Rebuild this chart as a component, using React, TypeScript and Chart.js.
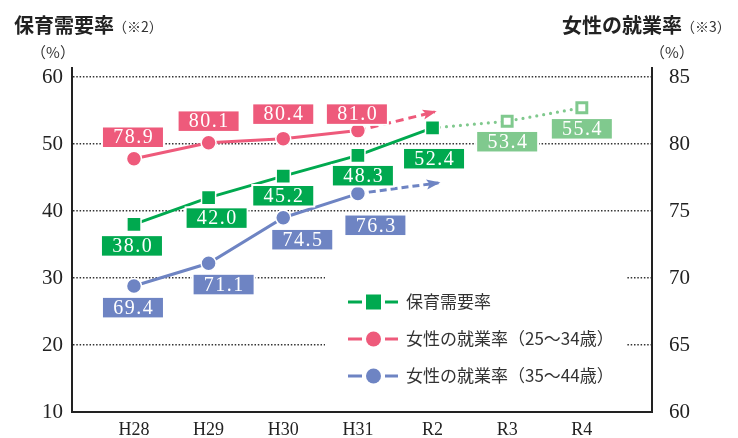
import React, { useEffect, useRef } from 'react';
import { Chart, registerables } from 'chart.js';

Chart.register(...registerables);

// ---- data ----
const categories = ['H28', 'H29', 'H30', 'H31', 'R2', 'R3', 'R4'];
const demandActual = [38.0, 42.0, 45.2, 48.3, 52.4]; // H28..R2
const demandForecast = [52.4, 53.4, 55.4]; // R2..R4
const emp2534 = [78.9, 80.1, 80.4, 81.0]; // H28..H31
const emp3544 = [69.4, 71.1, 74.5, 76.3]; // H28..H31
const emp2534TrendEnd = 82.4; // dashed arrow end (around R2)
const emp3544TrendEnd = 77.1;
const leftTicks = [10, 20, 30, 40, 50, 60];
const rightTicks = [60, 65, 70, 75, 80, 85];

const leftTitle = '保育需要率';
const leftNote = '（※2）';
const rightTitle = '女性の就業率';
const rightNote = '（※3）';
const unitLabel = '（%）';
const legendLabels = ['保育需要率', '女性の就業率（25～34歳）', '女性の就業率（35～44歳）'];

// ---- styles ----
const GREEN = '#00a94f';
const LIGHT_GREEN = '#80c98e';
const PINK = '#ee5a7b';
const BLUE = '#6e84c3';
const SERIF = '"Liberation Serif", "Times New Roman", serif';
const SANS = '"Noto Sans CJK JP", "Noto Sans", sans-serif';

// label box offsets from point (dx, dy)
const greenOffsets = [[-2, 21.5], [8, 20.5], [0, 19.6], [5, 20.3], [1.5, 30.8]];
const greenForecastOffsets = [null, [0, 20.5], [0, 21]];
const pinkOffsets = [[-1, -21.5], [0, -21.5], [0, -24.5], [-1, -16.5]];
const blueOffsets = [[-1, 21.6], [15, 21.3], [19, 22], [17.5, 31.7]];

const pts = (arr: number[], start = 0) => arr.map((v, i) => ({ x: start + i, y: v }));

function drawBox(ctx: CanvasRenderingContext2D, cx: number, cy: number, text: string, color: string) {
  const w = 60, h = 19.5;
  ctx.save();
  ctx.fillStyle = '#fff';
  ctx.fillRect(cx - w / 2 - 2, cy - h / 2 - 2, w + 4, h + 4);
  ctx.fillStyle = color;
  ctx.fillRect(cx - w / 2, cy - h / 2, w, h);
  ctx.fillStyle = '#fff';
  ctx.font = `20px ${SERIF}`;
  (ctx as any).letterSpacing = '1.5px';
  ctx.textAlign = 'center';
  ctx.textBaseline = 'middle';
  ctx.fillText(text, cx + 0.75, cy + 1);
  ctx.restore();
}

function drawArrowHead(ctx: CanvasRenderingContext2D, x0: number, y0: number, x1: number, y1: number, color: string) {
  const ang = Math.atan2(y1 - y0, x1 - x0);
  const len = 12, half = 5;
  ctx.save();
  ctx.translate(x1, y1);
  ctx.rotate(ang);
  ctx.beginPath();
  ctx.moveTo(2, 0);
  ctx.lineTo(-len, -half);
  ctx.lineTo(-len + 3, 0);
  ctx.lineTo(-len, half);
  ctx.closePath();
  ctx.fillStyle = color;
  ctx.fill();
  ctx.restore();
}

const overlayPlugin = {
  id: 'overlay',
  beforeDatasetsDraw(chart: any) {
    const ctx = chart.ctx as CanvasRenderingContext2D;
    // clear grid behind legend
    ctx.save();
    ctx.fillStyle = '#fff';
    ctx.fillRect(325, 272, 302, 118);
    ctx.restore();
  },
  afterDatasetsDraw(chart: any) {
    const ctx = chart.ctx as CanvasRenderingContext2D;
    // arrow heads
    [[4, PINK], [5, BLUE]].forEach(([idx, color]: any) => {
      const d = chart.getDatasetMeta(idx).data;
      const p0 = d[d.length - 2], p1 = d[d.length - 1];
      drawArrowHead(ctx, p0.x, p0.y, p1.x, p1.y, color);
    });
    const lbl = (idx: number, values: number[], offs: any[], color: string) => {
      const d = chart.getDatasetMeta(idx).data;
      d.forEach((p: any, i: number) => {
        const o = offs[i];
        if (!o) return;
        drawBox(ctx, p.x + o[0], p.y + o[1], values[i].toFixed(1), color);
      });
    };
    lbl(0, demandActual, greenOffsets, GREEN);
    lbl(3, demandForecast, greenForecastOffsets, LIGHT_GREEN);
    lbl(1, emp2534, pinkOffsets, PINK);
    lbl(2, emp3544, blueOffsets, BLUE);
  },
  afterDraw(chart: any) {
    const ctx = chart.ctx as CanvasRenderingContext2D;
    ctx.save();
    ctx.textBaseline = 'middle';
    // titles
    ctx.fillStyle = '#222';
    ctx.textAlign = 'left';
    ctx.font = `bold 20px ${SANS}`;
    ctx.fillText(leftTitle, 14, 25);
    const lw = ctx.measureText(leftTitle).width;
    ctx.fillText(rightTitle, 562, 25);
    const rw = ctx.measureText(rightTitle).width;
    ctx.font = `14px ${SANS}`;
    ctx.fillStyle = '#333';
    ctx.fillText(leftNote, 14 + lw - 1, 27);
    ctx.fillText(rightNote, 562 + rw - 1, 27);
    // units
    ctx.textAlign = 'center';
    ctx.font = `15px ${SANS}`;
    ctx.fillStyle = '#333';
    ctx.fillText(unitLabel, 53, 52);
    ctx.fillText(unitLabel, 672, 52);
    // legend
    const rows = [302, 339, 376];
    const colors = [GREEN, PINK, BLUE];
    rows.forEach((y, i) => {
      ctx.strokeStyle = colors[i];
      ctx.lineWidth = 3;
      ctx.beginPath();
      ctx.moveTo(348, y); ctx.lineTo(362, y);
      ctx.moveTo(385, y); ctx.lineTo(398, y);
      ctx.stroke();
      ctx.fillStyle = colors[i];
      if (i === 0) {
        ctx.fillRect(366, y - 7.5, 15, 15);
      } else {
        ctx.beginPath();
        ctx.arc(373.5, y, 7.5, 0, Math.PI * 2);
        ctx.fill();
      }
      ctx.fillStyle = '#333';
      ctx.textAlign = 'left';
      ctx.font = `17px ${SANS}`;
      ctx.fillText(legendLabels[i], 406, y);
    });
    ctx.restore();
  },
};

export default function App() {
  const ref = useRef<HTMLCanvasElement | null>(null);
  useEffect(() => {
    if (!ref.current) return;
    const chart = new Chart(ref.current, {
      type: 'line',
      data: {
        datasets: [
          {
            data: pts(demandActual, 0),
            borderColor: GREEN,
            backgroundColor: GREEN,
            borderWidth: 3,
            pointStyle: 'rect',
            pointRadius: 10,
            pointBackgroundColor: GREEN,
            pointBorderColor: '#fff',
            pointBorderWidth: 1.5,
            yAxisID: 'y',
          },
          {
            data: pts(emp2534, 0),
            borderColor: PINK,
            borderWidth: 3,
            pointStyle: 'circle',
            pointRadius: 7.5,
            pointBackgroundColor: PINK,
            pointBorderColor: '#fff',
            pointBorderWidth: 1.5,
            yAxisID: 'y1',
          },
          {
            data: pts(emp3544, 0),
            borderColor: BLUE,
            borderWidth: 3,
            pointStyle: 'circle',
            pointRadius: 7.5,
            pointBackgroundColor: BLUE,
            pointBorderColor: '#fff',
            pointBorderWidth: 1.5,
            yAxisID: 'y1',
          },
          {
            data: pts(demandForecast, 4),
            borderColor: LIGHT_GREEN,
            borderWidth: 3.2,
            borderDash: [0, 7],
            borderCapStyle: 'round',
            pointStyle: 'rect',
            pointRadius: [0, 7, 7],
            pointBackgroundColor: '#fff',
            pointBorderColor: LIGHT_GREEN,
            pointBorderWidth: 3,
            yAxisID: 'y',
          },
          {
            data: [{ x: 3, y: emp2534[3] }, { x: 4.03, y: emp2534TrendEnd }],
            borderColor: PINK,
            borderWidth: 3,
            borderDash: [8, 5],
            pointRadius: 0,
            yAxisID: 'y1',
          },
          {
            data: [{ x: 3, y: emp3544[3] }, { x: 4.08, y: emp3544TrendEnd }],
            borderColor: BLUE,
            borderWidth: 3,
            borderDash: [7, 4],
            pointRadius: 0,
            yAxisID: 'y1',
          },
        ] as any,
      },
      options: {
        animation: false,
        responsive: false,
        events: [],
        layout: { padding: { top: 68, left: 0, right: 0, bottom: 0 } },
        plugins: { legend: { display: false }, tooltip: { enabled: false } },
        scales: {
          x: {
            type: 'linear',
            min: -0.83,
            max: 6.94,
            afterBuildTicks: (s: any) => { s.ticks = categories.map((_, i) => ({ value: i })); },
            afterFit: (s: any) => { s.height = 26; },
            ticks: {
              callback: (v: any) => categories[v] ?? '',
              font: { family: SERIF, size: 18 },
              color: '#222',
              padding: 7,
              autoSkip: false,
              maxRotation: 0,
            },
            grid: { display: false, drawTicks: false, tickLength: 0 },
            border: { display: true, color: '#222', width: 2 },
          },
          y: {
            position: 'left',
            min: 10,
            max: 61.343,
            afterBuildTicks: (s: any) => { s.ticks = leftTicks.map((v) => ({ value: v })); },
            afterFit: (s: any) => { s.width = 72; },
            ticks: { font: { family: SERIF, size: 21 }, color: '#222', padding: 9 },
            grid: { color: '#333', lineWidth: 1.5, drawTicks: false },
            border: { display: true, color: '#222', width: 2, dash: [1.5, 1.8] } as any,
          },
          y1: {
            position: 'right',
            min: 60,
            max: 85.672,
            afterBuildTicks: (s: any) => { s.ticks = rightTicks.map((v) => ({ value: v })); },
            afterFit: (s: any) => { s.width = 86; },
            ticks: { font: { family: SERIF, size: 21 }, color: '#222', padding: 9 },
            grid: { display: false },
            border: { display: true, color: '#222', width: 2 },
          },
        },
      } as any,
      plugins: [overlayPlugin],
    });
    return () => chart.destroy();
  }, []);
  return (
    <canvas
      ref={ref}
      width={738}
      height={438}
      style={{ position: 'absolute', left: 0, top: 0, width: 738, height: 438 }}
    />
  );
}
